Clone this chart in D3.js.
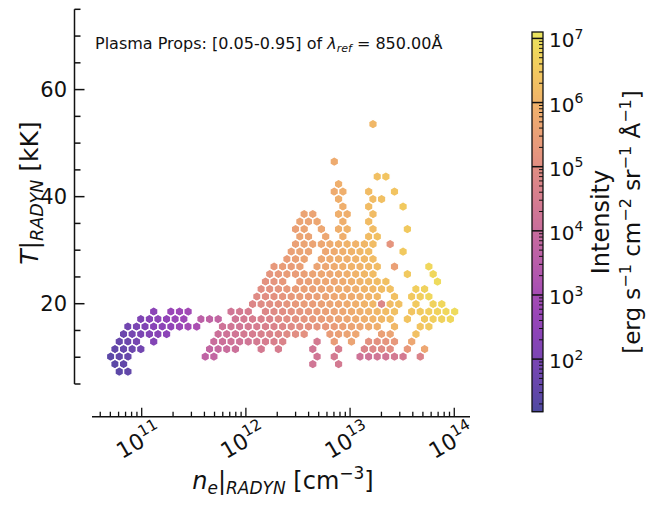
<!DOCTYPE html>
<html><head><meta charset="utf-8">
<script src="https://cdn.jsdelivr.net/npm/d3@7"></script>
<style>body{margin:0;background:#fff} text{font-family:"DejaVu Sans",sans-serif;fill:#111}</style>
</head><body><svg id="c" width="646" height="506"></svg>
<script>
// ---------------- data ----------------
const xTickExps = [11, 12, 13, 14];
const yTicks = [20, 40, 60];
const cbarTickExps = [2, 3, 4, 5, 6, 7];
const cbarLogRange = [1.18, 7.1];
// hexbin grid (data units): log10(ne) origin & half step, T origin (kK) & row step
const gridLogNe0 = 10.7025, gridHalfStep = 0.041267;
const gridT0 = 7.30, gridRowStep = 1.402;
// rows of hex cells: "row|col:log10(I) col:log10(I) ..."
const hexRows = [
"33|61:6.1",
"28|52:5.8",
"26|62:6.3 64:6.4",
"25|53:5.9",
"24|52:5.8 54:5.9 60:6.2 66:6.4",
"23|53:5.9 61:6.2 63:6.3",
"22|54:5.9 60:6.2 68:6.5",
"21|45:5.6 47:5.6 53:5.9 55:5.9 61:6.2",
"20|44:5.6 46:5.6 48:5.7 54:5.9 60:6.2",
"19|43:5.5 45:5.6 49:5.7 53:5.9 55:6.0 61:6.2 69:6.5",
"18|44:5.6 46:5.6 50:5.7 54:5.9 60:6.2 62:6.3",
"17|43:5.5 45:5.6 47:5.6 49:5.7 51:5.8 53:5.9 55:6.0 57:6.0 59:6.1 61:6.2 65:5.2",
"16|42:5.5 44:5.6 46:5.6 50:5.7 52:5.8 54:5.9 56:6.0 58:6.1 60:6.2 68:6.5",
"15|41:5.4 43:5.5 45:5.6 49:5.7 51:5.8 53:5.9 55:5.9 57:6.0 59:6.1 61:6.2",
"14|38:5.3 40:5.4 42:5.4 44:5.5 48:5.6 50:5.7 52:5.8 54:5.9 56:6.0 58:6.0 60:6.1 62:6.2 66:5.5 74:6.8",
"13|37:5.2 39:5.3 41:5.4 43:5.4 45:5.5 47:5.6 49:5.7 51:5.7 53:5.8 55:5.9 57:6.0 59:6.1 61:6.2 69:6.5 75:6.8",
"12|36:5.1 38:5.2 40:5.3 44:5.4 46:5.5 48:5.6 50:5.7 52:5.7 54:5.8 56:5.9 58:6.0 60:6.1 62:6.2 64:6.3 76:6.9",
"11|35:5.0 37:5.1 39:5.2 41:5.3 43:5.4 45:5.5 47:5.5 49:5.6 51:5.7 53:5.8 55:5.8 57:5.9 59:6.0 61:6.1 63:6.2 65:6.3 71:6.6 73:6.7",
"10|34:4.9 36:5.0 38:5.1 40:5.2 42:5.3 44:5.4 46:5.4 48:5.5 50:5.6 52:5.7 54:5.8 56:5.8 58:5.9 60:6.0 62:6.1 66:6.3 70:6.5 72:6.6 74:6.8",
"9|33:4.8 35:4.9 37:5.0 39:5.1 41:5.2 43:5.3 45:5.4 47:5.4 49:5.5 51:5.6 53:5.7 55:5.8 57:5.9 59:6.0 61:6.1 63:4.8 65:6.2 67:6.3 71:6.5 75:6.7 77:6.8",
"8|10:2.4 14:2.7 16:2.8 18:2.9 28:4.3 30:4.4 32:4.5 36:4.8 38:4.9 40:5.0 42:5.1 44:5.2 46:5.3 48:5.4 50:5.5 52:5.6 54:5.7 56:5.8 58:5.9 60:6.0 62:6.1 64:6.2 66:6.3 70:6.4 72:6.5 74:6.6 76:6.7 78:6.8 80:6.9",
"7|7:2.1 9:2.3 11:2.4 13:2.5 15:2.7 17:2.8 21:3.6 23:3.7 25:3.8 29:4.3 31:4.4 33:4.5 35:4.6 37:4.7 39:4.9 41:5.0 43:5.1 45:5.2 47:5.3 49:5.4 51:5.5 53:5.6 55:5.7 57:5.8 59:5.9 61:6.0 63:6.1 65:6.2 69:6.4 73:6.5 75:6.6 77:6.7 79:6.8",
"6|4:1.8 6:2.0 8:2.1 10:2.3 12:2.4 14:2.5 16:2.7 18:2.9 20:3.1 26:4.2 28:4.3 30:4.3 32:4.4 34:4.5 36:4.6 38:4.7 40:4.8 42:4.9 44:5.0 46:5.1 48:5.2 50:5.3 52:5.4 54:5.5 56:5.6 58:5.7 60:5.8 62:5.9 66:6.1 72:6.4 74:6.5",
"5|3:1.7 5:1.9 7:2.0 9:2.2 11:2.3 13:2.4 25:4.1 27:4.2 29:4.3 31:4.4 33:4.5 35:4.6 37:4.7 39:4.8 41:4.9 43:5.0 45:5.1 51:5.4 53:5.5 55:5.6 57:5.7 63:5.5 65:5.6 71:6.3",
"4|2:1.6 4:1.7 6:1.9 10:2.2 24:4.0 26:4.1 28:4.2 30:4.2 32:4.3 34:4.4 36:4.5 38:4.6 40:4.7 48:4.4 52:5.4 56:5.6 60:5.1 62:5.1 64:5.2 66:5.3 70:5.7",
"3|1:1.5 3:1.6 5:1.7 7:1.8 23:3.8 25:3.9 27:4.0 29:4.1 35:4.4 39:4.5 47:4.3 53:4.5 59:4.7 61:4.8 63:4.9 65:5.0 69:5.3 73:5.7",
"2|0:1.4 2:1.5 4:1.6 22:3.7 24:3.8 48:4.3 52:4.4 58:4.2 60:4.2 62:4.3 64:4.3 66:4.4 68:4.4 72:4.7",
"1|1:1.4 3:1.5 47:4.3 53:4.4",
"0|2:1.4 4:1.5"
];

// ---------------- drawing ----------------
const svg = d3.select("#c");
const x = d3.scaleLog().domain([Math.pow(10, 10.523), Math.pow(10, 14.151)]).range([92, 470]);
const y = d3.scaleLinear().domain([5, 75]).range([384, 9.3]);
const cDomain = [Math.pow(10, cbarLogRange[0]), Math.pow(10, cbarLogRange[1])];
const cPos = d3.scaleLog().domain(cDomain).range([411.7, 32]);
const ALPHA = 0.72, DARK = 0.95;
function muted(t) {
  const c = d3.rgb(d3.interpolatePlasma(t * 0.97));
  const f = v => Math.round((v * ALPHA + 255 * (1 - ALPHA)) * DARK);
  return d3.rgb(f(c.r), f(c.g), f(c.b)).formatHex();
}
const cmap = d3.scaleSequentialLog(muted).domain(cDomain);

// parse cells
const cells = [];
hexRows.forEach(s => {
  const [r, rest] = s.split("|");
  rest.trim().split(/\s+/).forEach(p => {
    const [c, v] = p.split(":");
    cells.push({logNe: gridLogNe0 + (+c) * gridHalfStep, T: gridT0 + (+r) * gridRowStep, I: Math.pow(10, +v)});
  });
});

const gHex = svg.append("g");
cells.forEach(d => {
  const cx = x(Math.pow(10, d.logNe)), cy = y(d.T);
  const hw = x(Math.pow(10, d.logNe + gridHalfStep)) - cx;
  const hh = cy - y(d.T + gridRowStep * 2 / 3);
  const pts = [[hw, -hh / 2], [hw, hh / 2], [0, hh], [-hw, hh / 2], [-hw, -hh / 2], [0, -hh]]
    .map(p => [cx + p[0], cy + p[1]]);
  gHex.append("path").attr("d", "M" + pts.join("L") + "Z")
    .attr("fill", cmap(d.I))
    .attr("stroke", "#fff").attr("stroke-width", 1.4).attr("stroke-linejoin", "round");
});

// helpers
function powLabel(t, base, exp, fs) {
  t.append("tspan").text(base);
  t.append("tspan").attr("font-size", fs * 0.7).attr("dy", -fs * 0.42).text(exp);
}
const ink = "#111";

// y axis
const gy = svg.append("g");
gy.append("line").attr("x1", 74.5).attr("x2", 74.5).attr("y1", y(75)).attr("y2", y(5)).attr("stroke", ink).attr("stroke-width", 1.5);
d3.range(5, 76, 5).forEach(v => {
  const major = yTicks.includes(v);
  gy.append("line").attr("x1", 74.5).attr("x2", 74.5 + (major ? 10 : 6)).attr("y1", y(v)).attr("y2", y(v))
    .attr("stroke", ink).attr("stroke-width", 1.5);
});
yTicks.forEach(v => {
  gy.append("text").attr("x", 67).attr("y", y(v)).attr("dy", "0.36em").attr("text-anchor", "end")
    .attr("font-size", 21).text(v);
});

// x axis
const axY = 416.7;
const gx = svg.append("g");
gx.append("line").attr("x1", 92).attr("x2", 470).attr("y1", axY).attr("y2", axY).attr("stroke", ink).attr("stroke-width", 1.5);
[10, 11, 12, 13, 14].forEach(e => {
  for (let m = 1; m <= 9; m++) {
    const v = m * Math.pow(10, e);
    if (v < x.domain()[0] || v > x.domain()[1]) continue;
    const major = m === 1;
    gx.append("line").attr("x1", x(v)).attr("x2", x(v)).attr("y1", axY).attr("y2", axY - (major ? 9 : 5))
      .attr("stroke", ink).attr("stroke-width", 1.3);
  }
});
xTickExps.forEach(e => {
  const px = x(Math.pow(10, e));
  const t = gx.append("text").attr("transform", `translate(${px - 4},${axY + 22}) rotate(-30)`)
    .attr("text-anchor", "middle").attr("dy", "0.45em").attr("font-size", 22);
  powLabel(t, "10", e, 22);
});

// axis labels
const xl = svg.append("text").attr("x", 283).attr("y", 489).attr("text-anchor", "middle").attr("font-size", 24);
xl.append("tspan").attr("font-style", "italic").text("n");
xl.append("tspan").attr("font-style", "italic").attr("font-size", 17).attr("dy", 5).text("e");
xl.append("tspan").attr("dy", -5).text("|");
xl.append("tspan").attr("font-style", "italic").attr("font-size", 17).attr("dy", 5).text("RADYN");
xl.append("tspan").attr("dy", -5).text(" [cm");
xl.append("tspan").attr("font-size", 17).attr("dy", -10).text("\u22123");
xl.append("tspan").attr("dy", 10).text("]");

const yl = svg.append("text").attr("transform", "translate(38,193) rotate(-90)").attr("text-anchor", "middle").attr("font-size", 25);
yl.append("tspan").attr("font-style", "italic").text("T");
yl.append("tspan").text("|");
yl.append("tspan").attr("font-style", "italic").attr("font-size", 17.5).attr("dy", 5).text("RADYN");
yl.append("tspan").attr("dy", -5).text(" [kK]");

// title
const tt = svg.append("text").attr("x", 95).attr("y", 49).attr("font-size", 16);
tt.append("tspan").text("Plasma Props: [0.05-0.95] of ");
tt.append("tspan").attr("font-style", "italic").text("\u03bb");
tt.append("tspan").attr("font-style", "italic").attr("font-size", 11).attr("dy", 3).text("ref");
tt.append("tspan").attr("dy", -3).text(" = 850.00\u00c5");

// colorbar
const cbx = 532, cbw = 11;
const gcbar = svg.append("g");
const cbTop = cPos.range()[1], cbBot = cPos.range()[0];
d3.range(Math.floor(cbTop), Math.ceil(cbBot)).forEach(py => {
  gcbar.append("rect").attr("x", cbx).attr("y", py).attr("width", cbw).attr("height", 1.2)
    .attr("fill", cmap(cPos.invert(py + 0.5)));
});
const gcb = svg.append("g");
for (let e = 1; e <= 7; e++) {
  for (let m = 1; m <= 9; m++) {
    const v = m * Math.pow(10, e);
    const lv = Math.log10(v);
    if (lv < cbarLogRange[0] || lv > cbarLogRange[1]) continue;
    const major = m === 1;
    gcb.append("line").attr("x1", major ? cbx : cbx + cbw - 4).attr("x2", cbx + cbw).attr("y1", cPos(v)).attr("y2", cPos(v))
      .attr("stroke", ink).attr("stroke-width", major ? 1.5 : 1);
  }
}
svg.append("rect").attr("x", cbx).attr("y", cbTop).attr("width", cbw).attr("height", cbBot - cbTop)
  .attr("fill", "none").attr("stroke", ink).attr("stroke-width", 1.3);
cbarTickExps.forEach(e => {
  const t = gcb.append("text").attr("x", 549).attr("y", cPos(Math.pow(10, e))).attr("dy", "0.45em").attr("font-size", 20);
  powLabel(t, "10", e, 20);
});
svg.append("text").attr("transform", "translate(609,222) rotate(-90)").attr("text-anchor", "middle").attr("font-size", 24).text("Intensity");
const cl2 = svg.append("text").attr("transform", "translate(640,222) rotate(-90)").attr("text-anchor", "middle").attr("font-size", 23);
cl2.append("tspan").text("[erg s");
cl2.append("tspan").attr("font-size", 16).attr("dy", -9).text("\u22121");
cl2.append("tspan").attr("dy", 9).text(" cm");
cl2.append("tspan").attr("font-size", 16).attr("dy", -9).text("\u22122");
cl2.append("tspan").attr("dy", 9).text(" sr");
cl2.append("tspan").attr("font-size", 16).attr("dy", -9).text("\u22121");
cl2.append("tspan").attr("dy", 9).text(" \u00c5");
cl2.append("tspan").attr("font-size", 16).attr("dy", -9).text("\u22121");
cl2.append("tspan").attr("dy", 9).text("]");
</script></body></html>
